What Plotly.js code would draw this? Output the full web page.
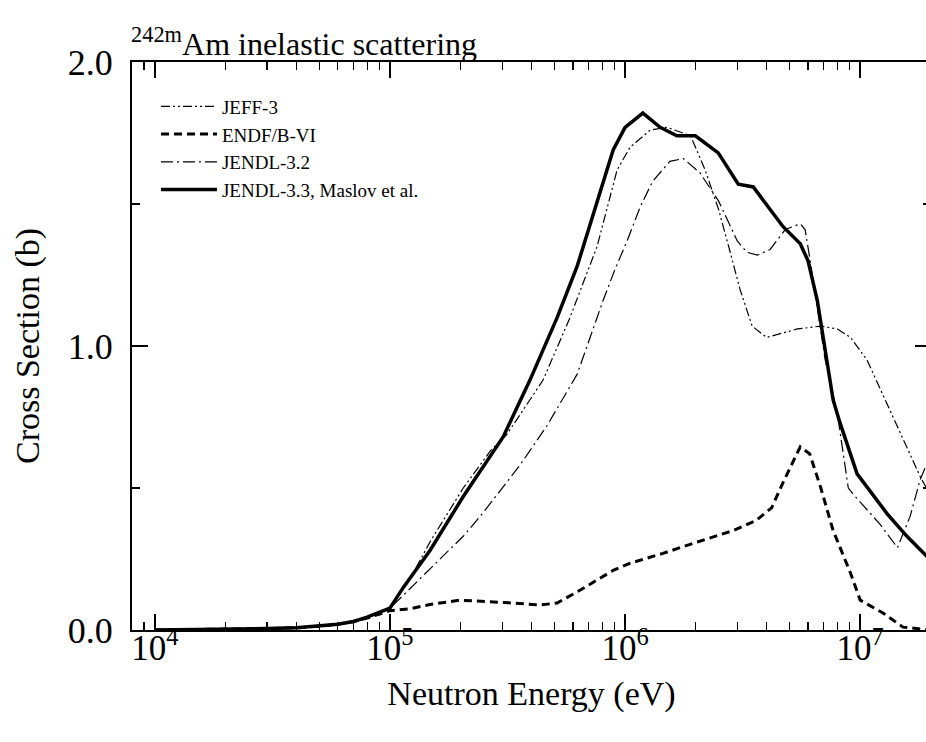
<!DOCTYPE html>
<html>
<head>
<meta charset="utf-8">
<script src="https://cdn.plot.ly/plotly-3.0.1.min.js"></script>
<style>
html, body { margin:0; padding:0; overflow:hidden; background:#fff; }
#chart { width:936px; height:742px; }
</style>
</head>
<body>
<div id="chart"></div>
<script>
// Neutron energy (eV) and cross sections (b)
const jeff3Energy = [1e4, 2e4, 3e4, 4e4, 5e4, 6e4, 7e4, 8e4, 9e4, 1e5, 1.2e5, 1.48e5, 2.05e5, 2.67e5, 3.15e5, 4.48e5, 5.83e5, 7.6e5, 9.25e5, 1.05e6, 1.28e6, 1.51e6, 1.77e6, 1.9e6, 2.19e6, 2.5e6, 2.8e6, 3.08e6, 3.47e6, 4.0e6, 5.4e6, 6.8e6, 8.0e6, 9.1e6, 1.07e7, 1.38e7, 1.8e7, 2.0e7];
const jeff3Sigma  = [0, 0.003, 0.006, 0.01, 0.015, 0.022, 0.03, 0.045, 0.06, 0.077, 0.17, 0.31, 0.50, 0.63, 0.69, 0.88, 1.10, 1.35, 1.62, 1.70, 1.76, 1.77, 1.75, 1.74, 1.62, 1.48, 1.33, 1.20, 1.07, 1.03, 1.06, 1.07, 1.06, 1.03, 0.95, 0.75, 0.54, 0.47];

const endfEnergy = [1e4, 2e4, 3e4, 4e4, 5e4, 6e4, 7e4, 8e4, 9e4, 1e5, 1.22e5, 1.48e5, 1.99e5, 2.67e5, 3.34e5, 4.35e5, 5.14e5, 6.43e5, 8.9e5, 1.05e6, 1.45e6, 2.03e6, 2.88e6, 3.6e6, 4.2e6, 4.7e6, 5.56e6, 6.1e6, 6.8e6, 7.67e6, 9.1e6, 1.0e7, 1.25e7, 1.52e7, 2.0e7];
const endfSigma  = [0, 0.002, 0.005, 0.008, 0.013, 0.02, 0.03, 0.042, 0.055, 0.068, 0.075, 0.09, 0.105, 0.10, 0.095, 0.088, 0.095, 0.14, 0.21, 0.235, 0.27, 0.31, 0.35, 0.385, 0.43, 0.52, 0.645, 0.62, 0.50, 0.35, 0.20, 0.105, 0.06, 0.01, 0.0];

const jendl32Energy = [1e4, 2e4, 3e4, 4e4, 5e4, 6e4, 7e4, 8e4, 9e4, 1e5, 1.07e5, 1.30e5, 1.68e5, 2.05e5, 2.42e5, 2.94e5, 3.57e5, 4.66e5, 6.25e5, 7.1e5, 8.06e5, 9.06e5, 1.02e6, 1.16e6, 1.31e6, 1.55e6, 1.77e6, 2.08e6, 2.5e6, 3.0e6, 3.3e6, 3.65e6, 4.14e6, 4.8e6, 5.56e6, 5.83e6, 6.1e6, 7.1e6, 8.0e6, 8.9e6, 9.3e6, 1.22e7, 1.44e7, 1.63e7, 1.8e7, 2.0e7];
const jendl32Sigma  = [0, 0.002, 0.005, 0.008, 0.013, 0.02, 0.03, 0.045, 0.062, 0.077, 0.10, 0.17, 0.26, 0.33, 0.40, 0.49, 0.58, 0.72, 0.90, 1.03, 1.16, 1.27, 1.37, 1.49, 1.58, 1.65, 1.66, 1.61, 1.51, 1.37, 1.33, 1.32, 1.34, 1.41, 1.43, 1.41, 1.31, 0.95, 0.76, 0.50, 0.48, 0.37, 0.29, 0.40, 0.53, 0.62];

const jendl33Energy = [1e4, 2e4, 3e4, 4e4, 5e4, 6e4, 7e4, 8e4, 9e4, 1e5, 1.14e5, 1.48e5, 2.05e5, 2.67e5, 3.03e5, 3.94e5, 5.14e5, 6.25e5, 7.6e5, 8.9e5, 1.0e6, 1.19e6, 1.41e6, 1.66e6, 1.99e6, 2.49e6, 3.03e6, 3.51e6, 4.7e6, 5.56e6, 6.0e6, 6.57e6, 7.67e6, 8.2e6, 9.7e6, 1.3e7, 1.58e7, 2.0e7];
const jendl33Sigma  = [0, 0.002, 0.005, 0.008, 0.013, 0.02, 0.03, 0.045, 0.062, 0.077, 0.15, 0.28, 0.47, 0.61, 0.68, 0.88, 1.10, 1.28, 1.51, 1.69, 1.77, 1.82, 1.77, 1.74, 1.74, 1.68, 1.57, 1.56, 1.42, 1.36, 1.30, 1.16, 0.81, 0.73, 0.55, 0.41, 0.33, 0.245];

const seriesNames = ['JEFF-3', 'ENDF/B-VI', 'JENDL-3.2', 'JENDL-3.3, Maslov et al.'];
const xTickVals = [1e4, 1e5, 1e6, 1e7];
const xTickText = ['10<sup>4</sup>', '10<sup>5</sup>', '10<sup>6</sup>', '10<sup>7</sup>'];
const yTickVals = [0, 1, 2];
const yTickText = ['0.0', '1.0', '2.0'];

// minor tick positions on the log energy axis (2..9 in each decade)
const xMinorTicks = [];
for (let p = 3; p <= 7; p++) {
  for (let m = 2; m <= 9; m++) xMinorTicks.push(m * Math.pow(10, p));
}

const FONT = 'Liberation Serif, Times New Roman, serif';
const X_RANGE = [Math.log10(8000), Math.log10(2e7)];

const traces = [
  {x: jeff3Energy, y: jeff3Sigma, name: seriesNames[0], mode: 'lines',
   line: {color: '#000', width: 1.2, dash: '9px,3px,2px,3px,2px,3px'}},
  {x: endfEnergy, y: endfSigma, name: seriesNames[1], mode: 'lines',
   line: {color: '#000', width: 3, dash: '8px,5px'}},
  {x: jendl32Energy, y: jendl32Sigma, name: seriesNames[2], mode: 'lines',
   line: {color: '#000', width: 1.2, dash: '12px,4px,2px,4px'}},
  {x: jendl33Energy, y: jendl33Sigma, name: seriesNames[3], mode: 'lines',
   line: {color: '#000', width: 3.5}},
  // invisible carrier so the minor-tick overlay axis is drawn
  {x: jendl33Energy, y: jendl33Sigma, xaxis: 'x2', yaxis: 'y', mode: 'lines',
   line: {color: 'rgba(0,0,0,0)', width: 0}, showlegend: false, hoverinfo: 'skip'}
];

const layout = {
  width: 936, height: 742,
  margin: {l: 132, r: 5, t: 62, b: 112},
  paper_bgcolor: '#fff', plot_bgcolor: '#fff',
  font: {family: FONT, color: '#000', size: 34},
  showlegend: true,
  title: {
    text: '<sup>242m</sup>Am inelastic scattering',
    font: {family: FONT, size: 32, color: '#000'},
    x: 131/936, xanchor: 'left', xref: 'container',
    y: 1 - 44/742, yanchor: 'middle', yref: 'container'
  },
  legend: {
    x: 0.03, y: 0.955, xanchor: 'left', yanchor: 'top',
    bgcolor: 'rgba(0,0,0,0)', borderwidth: 0,
    font: {family: FONT, size: 19, color: '#000'},
    itemwidth: 56, tracegroupgap: 0
  },
  xaxis: {
    type: 'log', range: X_RANGE,
    tickmode: 'array', tickvals: xTickVals, ticktext: xTickText,
    showline: true, linecolor: '#000', linewidth: 2, mirror: 'ticks',
    ticks: 'inside', ticklen: 16, tickwidth: 1.5, tickcolor: '#000',
    showgrid: false, zeroline: false,
    tickfont: {family: FONT, size: 35, color: '#000'},
    ticklabelstandoff: -14,
    title: {text: 'Neutron Energy (eV)', font: {family: FONT, size: 34, color: '#000'}, standoff: 14}
  },
  xaxis2: {
    type: 'log', range: X_RANGE, overlaying: 'x', anchor: 'y', side: 'bottom',
    tickmode: 'array', tickvals: xMinorTicks, showticklabels: false,
    ticks: 'inside', ticklen: 8, tickwidth: 1.2, tickcolor: '#000',
    showline: false, mirror: 'ticks', showgrid: false, zeroline: false
  },
  yaxis: {
    range: [0, 2], tickvals: yTickVals, ticktext: yTickText,
    showline: true, linecolor: '#000', linewidth: 2, mirror: 'ticks',
    ticks: 'inside', ticklen: 16, tickwidth: 1.5, tickcolor: '#000',
    minor: {ticks: 'inside', ticklen: 8, tickwidth: 1.2, tickcolor: '#000', dtick: 0.5, tick0: 0, showgrid: false},
    showgrid: false, zeroline: false,
    tickfont: {family: FONT, size: 36, color: '#000'},
    ticklabelstandoff: 10,
    title: {text: 'Cross Section (b)', font: {family: FONT, size: 34, color: '#000'}, standoff: 18}
  }
};

Plotly.newPlot('chart', traces, layout, {displayModeBar: false, responsive: false, staticPlot: true});
</script>
</body>
</html>
